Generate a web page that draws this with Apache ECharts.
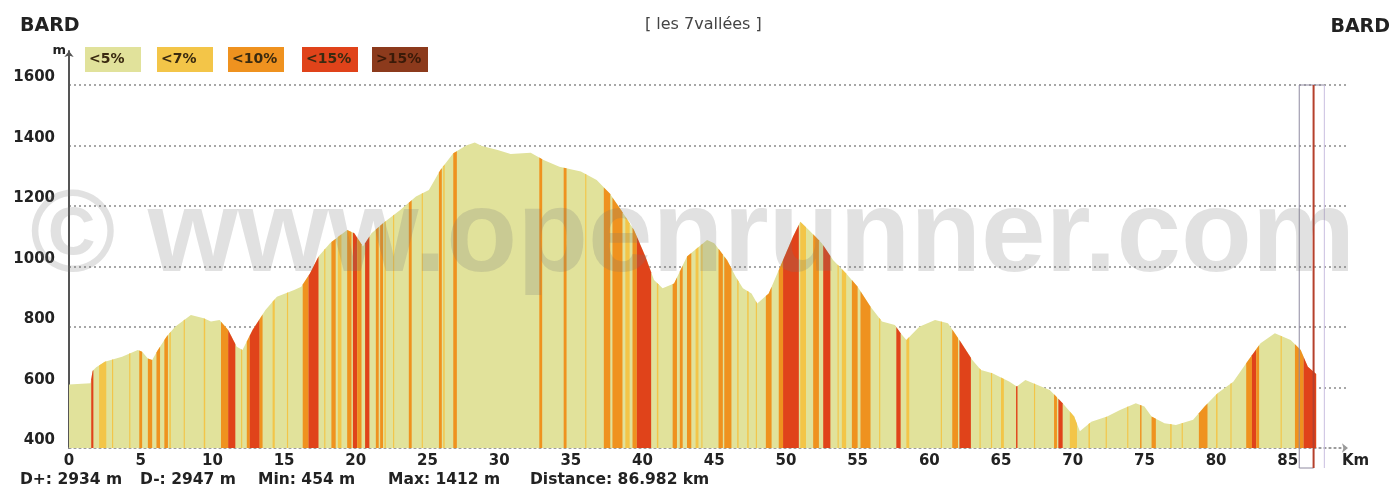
<!DOCTYPE html>
<html>
<head>
<meta charset="utf-8">
<script src="https://cdn.jsdelivr.net/npm/echarts@6/dist/echarts.min.js"></script>
<style>
  html, body { margin: 0; padding: 0; background: #fff; }
  #profile { width: 1399px; height: 496px; }
</style>
</head>
<body>
<div id="profile"></div>
<script>
// elevation profile (km, m)
var km = [0, 1.5, 1.65, 1.9, 2.5, 3.7, 4.8, 5.1, 5.5, 5.8, 6.2, 6.8, 7.4, 8.5, 9.4, 9.9, 10.5, 11.1, 11.7, 12.1,
    12.8, 13.7, 14.5, 15.7, 16.2, 16.8, 17.4, 18.2, 19.4, 19.9, 20.5, 21.1, 21.9, 23.1, 24.2, 25.1, 25.9, 26.8,
    27.7, 28.3, 28.8, 29.9, 30.8, 32.2, 33.1, 34.2, 35.7, 36.8, 37.7, 38.5, 39.4, 40.2, 40.8, 41.4, 42.2, 43.1,
    44.5, 45.0, 45.9, 46.5, 47.0, 47.6, 48.0, 48.8, 49.6, 50.5, 51.0, 51.6, 52.5, 53.3, 54.2, 55.0, 55.9, 56.7,
    57.6, 58.0, 58.4, 59.3, 60.4, 61.3, 62.1, 63.0, 63.6, 64.4, 65.6, 66.1, 66.7, 67.8, 68.4, 69.3, 70.1, 70.5,
    71.3, 72.4, 73.3, 74.4, 75.0, 75.5, 76.4, 77.2, 78.4, 79.2, 80.1, 81.2, 82.1, 83.1, 84.1, 85.2, 85.9, 86.4, 86.98];
var alt = [610, 614, 655, 667, 685, 702, 724, 718, 696, 691, 724, 768, 801, 840, 829, 818, 823, 790, 735, 724,
    790, 856, 900, 922, 933, 977, 1033, 1077, 1121, 1110, 1066, 1110, 1143, 1187, 1231, 1253, 1319, 1374,
    1400, 1410, 1398, 1385, 1372, 1376, 1352, 1330, 1314, 1286, 1242, 1187, 1121, 1033, 955, 928, 944, 1033,
    1088, 1077, 1021, 966, 928, 911, 878, 911, 999, 1099, 1148, 1121, 1077, 1021, 977, 933, 867, 818,
    807, 779, 757, 801, 823, 812, 757, 691, 658, 647, 619, 603, 625, 603, 592, 548, 504, 455,
    487, 504, 526, 548, 537, 504, 482, 476, 493, 537, 581, 619, 680, 746, 779, 757, 724, 669, 645];

// gradient stripes: start km, end km, class index (1 = <7%, 2 = <10%, 3 = <15%, 4 = >15%)
var stripeFrom = [1.55, 2.1, 3.0, 4.2, 4.9, 5.5, 6.1, 6.65, 7.0, 8.0, 9.4, 10.6, 11.1, 12.0, 12.4, 12.6, 13.3,
    14.2, 15.2, 16.3, 16.7, 17.8, 18.3, 18.75, 19.4, 19.8, 20.1, 20.65, 21.4, 21.7, 22.0, 22.6, 23.7, 24.6,
    25.8, 26.1, 26.8, 32.8, 34.5, 36.0, 37.3, 37.9, 38.8, 39.3, 39.6, 41.0, 42.1, 42.6, 43.1, 43.7, 44.1,
    45.3, 45.7, 46.6, 47.3, 47.9, 48.6, 49.5, 49.8, 51.0, 51.9, 52.6, 53.6, 53.9, 54.6, 55.2, 56.5, 57.7,
    58.4, 60.8, 61.6, 62.1, 63.5, 64.3, 65.0, 66.05, 67.3, 68.7, 69.0, 69.8, 71.1, 72.3, 73.8, 74.7, 75.5,
    76.8, 77.6, 78.8, 80.0, 81.0, 82.1, 82.5, 82.8, 84.5, 85.5, 86.1];
var stripeTo = [1.7, 2.6, 3.08, 4.28, 5.1, 5.8, 6.35, 6.9, 7.1, 8.08, 9.5, 11.1, 11.6, 12.08, 12.6, 13.3, 13.5,
    14.35, 15.28, 16.7, 17.4, 17.88, 18.6, 19.0, 19.7, 20.1, 20.4, 20.95, 21.6, 21.9, 22.1, 22.68, 23.9, 24.68,
    26.0, 26.2, 27.05, 33.0, 34.7, 36.08, 37.75, 38.6, 39.1, 39.6, 40.6, 41.1, 42.4, 42.8, 43.4, 43.9, 44.18,
    45.6, 46.2, 46.7, 47.4, 47.98, 49.0, 49.8, 50.9, 51.4, 52.3, 53.1, 53.68, 54.2, 55.0, 55.9, 56.58, 58.0,
    58.6, 60.88, 62.0, 62.9, 63.58, 64.38, 65.2, 66.15, 67.38, 68.9, 69.3, 70.3, 71.2, 72.38, 73.88, 74.8, 75.8,
    76.9, 77.68, 79.4, 80.1, 81.08, 82.5, 82.8, 83.0, 84.58, 86.1, 86.98];
var stripeClass = [3, 1, 1, 1, 2, 2, 2, 2, 1, 1, 1, 2, 3, 1, 2, 3, 2,
    1, 1, 2, 3, 1, 2, 1, 2, 3, 2, 3, 2, 2, 1, 1, 2, 1,
    2, 1, 2, 2, 2, 1, 2, 2, 1, 2, 3, 1, 2, 2, 2, 1, 1,
    2, 2, 1, 1, 1, 2, 2, 3, 1, 2, 3, 1, 1, 2, 2, 1, 3,
    1, 1, 2, 3, 1, 1, 1, 3, 1, 2, 3, 1, 1, 1, 1, 2, 2,
    1, 1, 2, 1, 1, 2, 3, 2, 1, 2, 3];

var classNames = ['<5%', '<7%', '<10%', '<15%', '>15%'];
var classColors = ['#e1e29b', '#f3c548', '#ef921f', '#e0431a', '#8c3a1c'];

var xTicks = 5;
var yTicks = [400, 1600];
var yStep = 200;
var kmMax = 89.2;
var cursorBox = [85.8, 87.55];
var cursorKm = 86.8;

var stats = ['D+: 2934 m', 'D-: 2947 m', 'Min: 454 m', 'Max: 1412 m', 'Distance: 86.982 km'];
var statsX = [20, 140, 258, 388, 530];

function altAt(x) {
    for (var i = 1; i < km.length; i++) {
        if (x <= km[i]) {
            var t = (x - km[i - 1]) / (km[i] - km[i - 1]);
            return alt[i - 1] + t * (alt[i] - alt[i - 1]);
        }
    }
    return alt[alt.length - 1];
}

var chart = echarts.init(document.getElementById('profile'));

var stripeData = stripeFrom.map(function (f, i) {
    return [f, stripeTo[i], stripeClass[i]];
});

var legendGraphics = [];
var legendX = [85, 157, 228, 302, 372];
classNames.forEach(function (name, i) {
    legendGraphics.push({
        type: 'rect',
        left: legendX[i], top: 47,
        shape: { width: 56, height: 25 },
        style: { fill: classColors[i] }
    });
    legendGraphics.push({
        type: 'text',
        left: legendX[i] + 4, top: 52,
        style: {
            text: name, fill: i === 4 ? '#3a1a08' : '#3a2a10',
            font: 'bold 14px "DejaVu Sans"'
        }
    });
});

var statGraphics = stats.map(function (s, i) {
    return {
        type: 'text', left: statsX[i], top: 472,
        style: { text: s, fill: '#222', font: 'bold 15.5px "DejaVu Sans"' }
    };
});

var option = {
    animation: false,
    backgroundColor: '#fff',
    grid: [
        { left: 69, right: 51, top: 85, bottom: 48 },
        { left: 69, right: 51, top: 51, bottom: 48 }
    ],
    xAxis: [
        {
            type: 'value', gridIndex: 0,
            min: 0, max: kmMax, interval: xTicks,
            name: 'Km', nameLocation: 'end', nameGap: -6,
            nameTextStyle: {
                color: '#222', fontFamily: 'DejaVu Sans', fontWeight: 'bold', fontSize: 15,
                align: 'left', verticalAlign: 'top', padding: [6, 0, 0, 0]
            },
            axisLine: {
                show: true, symbol: ['none', 'arrow'], symbolSize: [7, 6],
                lineStyle: { color: '#999', type: [2, 3], width: 1.5 }
            },
            axisTick: { show: false },
            axisLabel: {
                showMaxLabel: false, margin: 6,
                color: '#222', fontFamily: 'DejaVu Sans', fontWeight: 'bold', fontSize: 15
            },
            splitLine: { show: false }
        },
        {
            type: 'value', gridIndex: 1, min: 0, max: kmMax, show: false
        }
    ],
    yAxis: [
        {
            type: 'value', gridIndex: 0,
            min: yTicks[0], max: yTicks[1], interval: yStep,
            axisLine: { show: false },
            axisTick: { show: false },
            axisLabel: {
                margin: 14, verticalAlign: 'bottom',
                formatter: function (v) { return String(v); },
                color: '#222', fontFamily: 'DejaVu Sans', fontWeight: 'bold', fontSize: 15
            },
            splitLine: { show: true, lineStyle: { color: '#8a8a8a', type: [2, 3], width: 1.5 } }
        },
        {
            type: 'value', gridIndex: 1,
            min: yTicks[0], max: yTicks[1] + 112,
            name: 'm', nameLocation: 'end', nameGap: 0,
            nameTextStyle: {
                color: '#222', fontFamily: 'DejaVu Sans', fontWeight: 'bold', fontSize: 13,
                align: 'right', verticalAlign: 'middle', padding: [0, 3, 0, 0]
            },
            axisLine: {
                show: true, symbol: ['none', 'arrow'], symbolSize: [7, 6],
                lineStyle: { color: '#555', width: 2 }
            },
            axisTick: { show: false },
            axisLabel: { show: false },
            splitLine: { show: false }
        }
    ],
    series: [
        {
            name: classNames[0],
            type: 'line',
            xAxisIndex: 0, yAxisIndex: 0,
            data: km.map(function (k, i) { return [k, alt[i]]; }),
            symbol: 'none',
            lineStyle: { width: 0 },
            areaStyle: { color: classColors[0], opacity: 1, origin: 'start' },
            z: 2
        },
        {
            name: 'stripes',
            type: 'custom',
            xAxisIndex: 0, yAxisIndex: 0,
            data: stripeData,
            encode: { x: [0, 1] },
            z: 3,
            renderItem: function (params, api) {
                var from = api.value(0), to = api.value(1), cls = api.value(2);
                var pts = [api.coord([from, yTicks[0]]), api.coord([from, altAt(from)])];
                for (var i = 0; i < km.length; i++) {
                    if (km[i] > from && km[i] < to) pts.push(api.coord([km[i], alt[i]]));
                }
                pts.push(api.coord([to, altAt(to)]));
                pts.push(api.coord([to, yTicks[0]]));
                return {
                    type: 'polygon',
                    shape: { points: pts },
                    style: { fill: classColors[cls] }
                };
            }
        },
        {
            name: 'cursor',
            type: 'custom',
            xAxisIndex: 0, yAxisIndex: 0,
            data: [[cursorBox[0], cursorBox[1], cursorKm]],
            clip: false,
            z: 4,
            renderItem: function (params, api) {
                var tl = api.coord([api.value(0), yTicks[1]]);
                var br = api.coord([api.value(1), yTicks[0]]);
                var mid = api.coord([api.value(2), yTicks[1]]);
                var bottom = br[1] + 20;
                return {
                    type: 'group',
                    children: [
                        { type: 'line', shape: { x1: tl[0], y1: tl[1], x2: tl[0], y2: bottom },
                          style: { stroke: '#8f8aa0', lineWidth: 1 } },
                        { type: 'line', shape: { x1: br[0], y1: tl[1], x2: br[0], y2: bottom },
                          style: { stroke: '#c9bfe0', lineWidth: 1 } },
                        { type: 'line', shape: { x1: tl[0], y1: tl[1], x2: br[0], y2: tl[1] },
                          style: { stroke: '#8f8aa0', lineWidth: 1 } },
                        { type: 'line', shape: { x1: tl[0], y1: bottom, x2: mid[0], y2: bottom },
                          style: { stroke: '#8f8aa0', lineWidth: 1 } },
                        { type: 'line', shape: { x1: mid[0], y1: tl[1], x2: mid[0], y2: bottom },
                          style: { stroke: '#b5402c', lineWidth: 2 } }
                    ]
                };
            }
        }
    ],
    graphic: [
        { type: 'text', left: 20, top: 17, style: { text: 'BARD', fill: '#222', font: 'bold 19px "DejaVu Sans"' } },
        { type: 'text', right: 9, top: 18, style: { text: 'BARD', fill: '#222', font: 'bold 19px "DejaVu Sans"' } },
        { type: 'text', left: 645, top: 17, style: { text: '[ les 7vallées ]', fill: '#444', font: '16px "DejaVu Sans"' } },
        {
            type: 'text', left: 30, top: 181, z: 100,
            style: { text: '\u00a9 www.openrunner.com', fill: 'rgba(120,120,120,0.22)', font: 'bold 116px "Liberation Sans"' }
        }
    ].concat(legendGraphics, statGraphics)
};

chart.setOption(option);
</script>
</body>
</html>
